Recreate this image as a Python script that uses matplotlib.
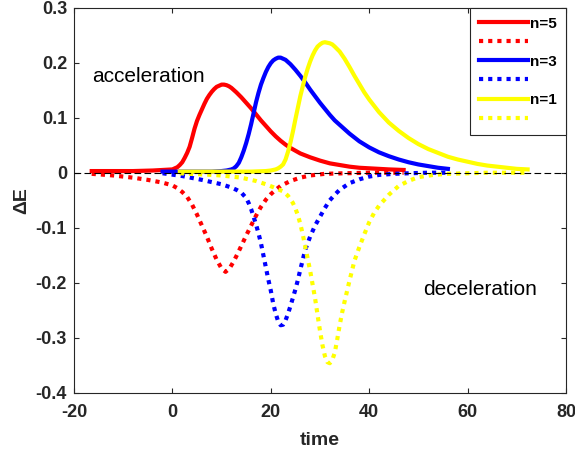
import numpy as np
import matplotlib
matplotlib.use('agg')
import matplotlib.pyplot as plt

plt.rcParams['font.family'] = ['Liberation Sans', 'DejaVu Sans']
plt.rcParams['axes.unicode_minus'] = False

# n=5 (red)
t_red_acc = [-16.4, -12, -8, -4, -2, 0, 0.5, 1, 1.5, 2, 2.5, 3, 3.5, 4, 4.5, 5, 5.5, 6,
             6.5, 7, 7.5, 8, 8.5, 9, 9.5, 10, 10.5, 11, 11.5, 12, 13, 14, 15, 16, 17,
             18, 19, 20, 21, 22, 23, 24, 25, 26, 28, 30, 32, 34, 36, 38, 40, 42, 44, 47]
e_red_acc = [0.003, 0.003, 0.003, 0.004, 0.005, 0.006, 0.008, 0.010, 0.014, 0.019,
             0.027, 0.036, 0.047, 0.063, 0.080, 0.094, 0.105, 0.115, 0.125, 0.134,
             0.141, 0.147, 0.152, 0.156, 0.158, 0.160, 0.160, 0.159, 0.157, 0.154,
             0.146, 0.137, 0.127, 0.117, 0.106, 0.095, 0.085, 0.075, 0.066, 0.058,
             0.051, 0.045, 0.040, 0.035, 0.028, 0.022, 0.017, 0.014, 0.011, 0.009,
             0.008, 0.007, 0.006, 0.005]
t_red_dec = [-16.4, -12, -8, -5, -2, 0, 1, 2, 3, 4, 5, 6, 7, 8, 9, 10, 10.8, 11.6, 12.4,
             13.2, 14, 15, 16, 17, 18, 19, 20, 21, 22, 24, 26, 28, 31, 35, 40, 47]
e_red_dec = [-0.002, -0.005, -0.009, -0.013, -0.018, -0.023, -0.028, -0.035, -0.044,
             -0.058, -0.076, -0.096, -0.116, -0.138, -0.158, -0.174, -0.180, -0.174,
             -0.162, -0.148, -0.133, -0.114, -0.096, -0.078, -0.062, -0.049, -0.039,
             -0.031, -0.024, -0.015, -0.009, -0.005, -0.002, -0.001, 0.0, 0.0]

# n=3 (blue)
t_blue_acc = [-2, 4, 8, 10, 11, 12, 12.5, 13, 13.5, 14, 14.5, 15, 15.5, 16, 16.5, 17,
              17.5, 18, 18.5, 19, 19.5, 20, 20.5, 21, 21.5, 22, 22.5, 23, 24, 25, 26,
              27, 28, 29, 30, 31, 32, 33, 34, 36, 38, 40, 42, 44, 46, 48, 50, 52, 54, 56]
e_blue_acc = [0.002, 0.002, 0.002, 0.003, 0.004, 0.006, 0.008, 0.012, 0.018, 0.028,
              0.040, 0.054, 0.070, 0.088, 0.108, 0.128, 0.145, 0.160, 0.172, 0.183,
              0.192, 0.199, 0.204, 0.207, 0.209, 0.209, 0.207, 0.205, 0.197, 0.187,
              0.176, 0.164, 0.151, 0.139, 0.127, 0.116, 0.105, 0.095, 0.087, 0.071,
              0.057, 0.046, 0.037, 0.030, 0.024, 0.019, 0.015, 0.012, 0.009, 0.007]
t_blue_dec = [-2, 2, 6, 10, 12, 13, 14, 15, 15.5, 16, 16.5, 17, 17.5, 18, 18.5, 19,
              19.5, 20, 20.5, 21, 21.5, 22, 22.5, 23, 23.5, 24, 24.5, 25, 25.5, 26, 27,
              28, 29, 30, 31, 32, 33, 34, 36, 38, 40, 42, 45, 48, 52, 56]
e_blue_dec = [-0.001, -0.006, -0.013, -0.021, -0.027, -0.031, -0.036, -0.046, -0.055,
              -0.066, -0.080, -0.094, -0.110, -0.128, -0.150, -0.172, -0.194, -0.214,
              -0.238, -0.256, -0.270, -0.277, -0.276, -0.268, -0.256, -0.242, -0.227,
              -0.212, -0.195, -0.176, -0.140, -0.116, -0.096, -0.080, -0.064, -0.050,
              -0.040, -0.031, -0.019, -0.012, -0.007, -0.004, -0.002, -0.001, 0.0, 0.0]

# n=1 (yellow)
t_yel_acc = [1.5, 10, 16, 19, 20, 21, 21.5, 22, 22.5, 23, 23.5, 24, 24.5, 25, 25.5, 26,
             26.5, 27, 27.5, 28, 28.5, 29, 29.5, 30, 30.5, 31, 31.5, 32, 32.5, 33, 34,
             35, 36, 37, 38, 39, 40, 42, 44, 46, 48, 50, 52, 54, 56, 58, 60, 62, 64, 66,
             68, 70, 72.2]
e_yel_acc = [0.002, 0.002, 0.002, 0.003, 0.004, 0.006, 0.008, 0.011, 0.015, 0.024,
             0.038, 0.055, 0.075, 0.097, 0.118, 0.139, 0.157, 0.174, 0.189, 0.202,
             0.213, 0.222, 0.229, 0.233, 0.236, 0.237, 0.236, 0.235, 0.233, 0.229,
             0.220, 0.207, 0.192, 0.176, 0.161, 0.146, 0.133, 0.110, 0.091, 0.076,
             0.063, 0.052, 0.043, 0.036, 0.029, 0.024, 0.020, 0.016, 0.013, 0.011,
             0.009, 0.007, 0.006]
t_yel_dec = [1.5, 6, 10, 14, 17, 19, 21, 22.5, 23.5, 24.5, 25, 25.5, 26, 26.5, 27, 27.5,
             28, 28.5, 29, 29.5, 30, 30.5, 31, 31.5, 32, 32.5, 33, 33.5, 34, 34.5, 35,
             35.5, 36, 36.5, 37, 38, 39, 40, 41, 42, 44, 46, 48, 50, 53, 56, 60, 64,
             68, 72.2]
e_yel_dec = [-0.001, -0.003, -0.005, -0.009, -0.015, -0.021, -0.028, -0.034, -0.042,
             -0.055, -0.065, -0.077, -0.093, -0.112, -0.134, -0.156, -0.178, -0.203,
             -0.228, -0.258, -0.287, -0.313, -0.333, -0.344, -0.346, -0.340, -0.327,
             -0.303, -0.277, -0.254, -0.234, -0.215, -0.196, -0.178, -0.160, -0.135,
             -0.112, -0.090, -0.073, -0.060, -0.040, -0.024, -0.015, -0.008, -0.004,
             -0.002, -0.001, 0.0, 0.0, 0.0]

labels = ['n=5', '', 'n=3', '', 'n=1', '']
xticks = [-20, 0, 20, 40, 60, 80]
yticks = [-0.4, -0.3, -0.2, -0.1, 0, 0.1, 0.2, 0.3]
ytick_labels = ['-0.4', '-0.3', '-0.2', '-0.1', '0', '0.1', '0.2', '0.3']

fig = plt.figure(figsize=(5.75, 4.53), dpi=100)
ax = fig.add_axes([0.1287, 0.1325, 0.8556, 0.8509])

dot = (0, (1, 1.2))
lw = 3
h = []
h += ax.plot(t_red_acc, e_red_acc, color='red', lw=lw, solid_joinstyle='round')
h += ax.plot(t_red_dec, e_red_dec, color='red', lw=lw, ls=dot)
h += ax.plot(t_blue_acc, e_blue_acc, color='blue', lw=lw, solid_joinstyle='round')
h += ax.plot(t_blue_dec, e_blue_dec, color='blue', lw=lw, ls=dot)
h += ax.plot(t_yel_acc, e_yel_acc, color='yellow', lw=lw, solid_joinstyle='round')
h += ax.plot(t_yel_dec, e_yel_dec, color='yellow', lw=lw, ls=dot)

# zero line
ax.plot([-20, 80], [0, 0], color='black', lw=0.8, ls=(0, (6, 3)), zorder=5)

ax.text(-16.4, 0.175, 'acceleration', fontsize=15, va='center', ha='left')
ax.text(51, -0.212, 'deceleration', fontsize=15, va='center', ha='left')

ax.set_xlim(-20, 80)
ax.set_ylim(-0.4, 0.3)
ax.set_xticks(xticks)
ax.set_yticks(yticks)
ax.set_yticklabels(ytick_labels)
gray = '#262626'
for s in ax.spines.values():
    s.set_color(gray)
    s.set_linewidth(0.8)
ax.tick_params(direction='in', top=True, right=True, length=3.5, width=0.8,
               colors=gray, labelsize=13, pad=5)
ax.tick_params(axis='x', pad=8)
for lab in ax.get_xticklabels() + ax.get_yticklabels():
    lab.set_fontweight('bold')
ax.set_xlabel('time', fontsize=14, fontweight='bold', color=gray, labelpad=8)
ax.set_ylabel('ΔE', fontsize=14, fontweight='bold', color=gray, labelpad=4)

leg = ax.legend(h, labels, loc='upper right', bbox_to_anchor=(1, 1), borderaxespad=0,
                prop={'weight': 'bold', 'size': 11}, fancybox=False, framealpha=1,
                edgecolor=gray, handlelength=3.2, handletextpad=0.15,
                labelspacing=0.33, borderpad=0.6)
leg.get_frame().set_linewidth(0.8)

fig.savefig('out.png', dpi=100)
